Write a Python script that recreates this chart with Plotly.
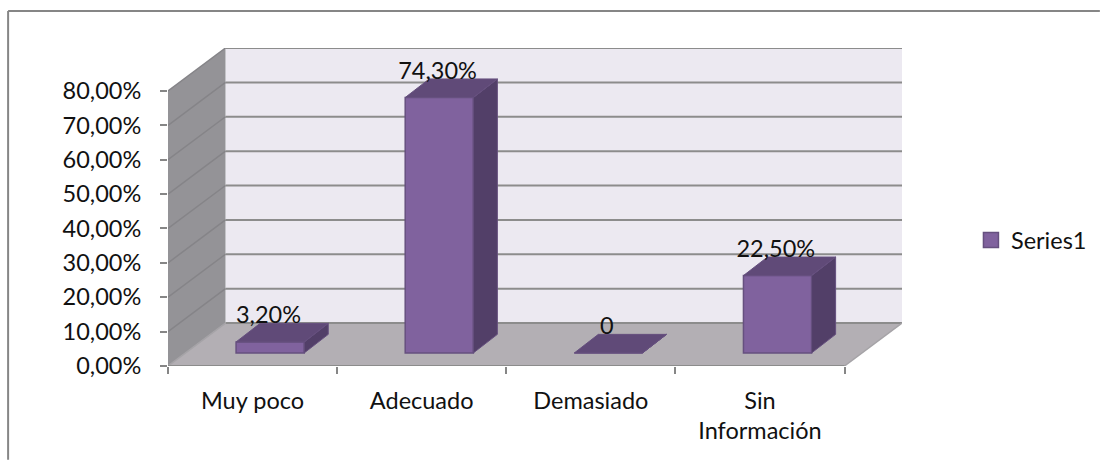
import plotly.graph_objects as go

CATEGORIES = ["Muy poco", "Adecuado", "Demasiado", "Sin<br>Información"]
VALUES = [3.2, 74.3, 0, 22.5]
VALUE_LABELS = ["3,20%", "74,30%", "0", "22,50%"]
Y_TICKS = [0, 10, 20, 30, 40, 50, 60, 70, 80]
Y_LABELS = ["0,00%", "10,00%", "20,00%", "30,00%", "40,00%", "50,00%", "60,00%", "70,00%", "80,00%"]

FONT = "Lato, Carlito, Calibri, sans-serif"
FONT_SIZE = 23.5
TEXT = "#111111"
GRID = "#8c8c8c"
FRAME = "#868686"
WALL_BACK = "#ece9f1"
WALL_SIDE = "#949397"
FLOOR = "#b3afb4"
BAR_FRONT = "#80629e"
BAR_TOP = "#604a78"
BAR_SIDE = "#523f68"
BAR_EDGE = "#66507f"

# fake 3D box, offsets in axis units
DEPTH_X = 0.34
DEPTH_Y = 12.5
BAR_W = 0.403
BAR_SHIFT = 0.104
BAR_LIFT = 3.8
BAR_DX = 0.142
BAR_DY = 5.4

M_L, M_R, M_T, M_B = 167.5, 198, 47.5, 94
PLOT_W = 1100 - M_L - M_R
PLOT_H = 460 - M_T - M_B


def _poly(points, fill):
    path = "M " + " L ".join(f"{x},{y}" for x, y in points) + " Z"
    return dict(type="path", path=path, xref="x", yref="y", fillcolor=fill,
                line=dict(width=0), layer="below")


def _line(x0, y0, x1, y1, color=GRID, width=2):
    return dict(type="line", x0=x0, y0=y0, x1=x1, y1=y1, xref="x", yref="y",
                line=dict(color=color, width=width), layer="below")


def _frame(x0, y0, x1, y1):
    # outer chart frame, given in page pixels
    return dict(type="line", xref="paper", yref="paper",
                x0=(x0 - M_L) / PLOT_W, x1=(x1 - M_L) / PLOT_W,
                y0=1 - (y0 - M_T) / PLOT_H, y1=1 - (y1 - M_T) / PLOT_H,
                line=dict(color=FRAME, width=2))


n = len(CATEGORIES)
top = max(Y_TICKS)

shapes = [
    _poly([(DEPTH_X, DEPTH_Y), (n + DEPTH_X, DEPTH_Y), (n + DEPTH_X, top + DEPTH_Y), (DEPTH_X, top + DEPTH_Y)], WALL_BACK),
    _poly([(0, 0), (0, top), (DEPTH_X, top + DEPTH_Y), (DEPTH_X, DEPTH_Y)], WALL_SIDE),
    _poly([(0, 0), (n, 0), (n + DEPTH_X, DEPTH_Y), (DEPTH_X, DEPTH_Y)], FLOOR),
]
for v in Y_TICKS:
    shapes.append(_line(DEPTH_X, v + DEPTH_Y, n + DEPTH_X, v + DEPTH_Y))
    if v > 0:
        shapes.append(_line(0, v, DEPTH_X, v + DEPTH_Y, color="#858488", width=1.5))
shapes.append(_line(0, 0, DEPTH_X, DEPTH_Y, color="#a5a3a7", width=1.5))
shapes.append(_line(n, 0, n + DEPTH_X, DEPTH_Y, color="#a5a3a7", width=1.5))
shapes.append(_line(0, 0, n, 0))
shapes.append(_frame(7.5, 10.5, 1100, 10.5))
shapes.append(_frame(7.5, 10.5, 7.5, 460))

centers = [i + 0.5 for i in range(n)]
bar_x = [c + BAR_SHIFT for c in centers]

top_x, top_y, side_x, side_y = [], [], [], []
for x, v in zip(bar_x, VALUES):
    x0, x1 = x - BAR_W / 2, x + BAR_W / 2
    h = v + BAR_LIFT
    top_x += [x0, x1, x1 + BAR_DX, x0 + BAR_DX, x0, None]
    top_y += [h, h, h + BAR_DY, h + BAR_DY, h, None]
    side_x += [x1, x1, x1 + BAR_DX, x1 + BAR_DX, x1, None]
    side_y += [BAR_LIFT, h, h + BAR_DY, BAR_LIFT + BAR_DY, BAR_LIFT, None]

fig = go.Figure()
fig.add_trace(go.Bar(
    x=bar_x, y=VALUES, base=BAR_LIFT, width=BAR_W,
    marker=dict(color=BAR_FRONT, line=dict(color=BAR_EDGE, width=1.5)),
    showlegend=False, hoverinfo="skip",
))
fig.add_trace(go.Scatter(
    x=side_x, y=side_y, mode="lines", fill="toself", fillcolor=BAR_SIDE,
    line=dict(color=BAR_EDGE, width=1), showlegend=False, hoverinfo="skip",
))
fig.add_trace(go.Scatter(
    x=top_x, y=top_y, mode="lines", fill="toself", fillcolor=BAR_TOP,
    line=dict(color=BAR_EDGE, width=1), showlegend=False, hoverinfo="skip",
))
fig.add_trace(go.Scatter(
    x=[x - 0.01 for x in bar_x], y=[v + BAR_LIFT + BAR_DY + 1.8 for v in VALUES],
    mode="text", text=VALUE_LABELS, textposition="middle center",
    textfont=dict(family=FONT, size=FONT_SIZE, color=TEXT),
    cliponaxis=False, showlegend=False, hoverinfo="skip",
))
# legend entry only
fig.add_trace(go.Scatter(
    x=[None], y=[None], mode="markers", name="Series1",
    marker=dict(symbol="square", size=15, color=BAR_FRONT, line=dict(color=BAR_EDGE, width=1.5)),
))

fig.update_layout(
    width=1100, height=460,
    margin=dict(l=M_L, r=M_R, t=M_T, b=M_B, autoexpand=False),
    paper_bgcolor="white", plot_bgcolor="white",
    font=dict(family=FONT, size=FONT_SIZE, color=TEXT),
    shapes=shapes,
    showlegend=True,
    legend=dict(x=(971 - M_L) / PLOT_W, y=1 - (240 - M_T) / PLOT_H, xanchor="left", yanchor="middle",
                bgcolor="rgba(0,0,0,0)", font=dict(family=FONT, size=FONT_SIZE, color=TEXT)),
    xaxis=dict(
        range=[0, n + DEPTH_X], tickmode="array", tickvals=centers, ticktext=CATEGORIES,
        ticks="", ticklen=0, showgrid=False, zeroline=False, showline=False, ticklabelstandoff=18,
        minor=dict(tickmode="linear", tick0=0, dtick=1, ticks="outside", ticklen=7, tickwidth=2,
                   tickcolor=FRAME, showgrid=False),
    ),
    yaxis=dict(
        range=[0, top + DEPTH_Y], tickmode="array", tickvals=Y_TICKS, ticktext=Y_LABELS,
        ticks="outside", ticklen=7, tickwidth=2, tickcolor=FRAME,
        showgrid=False, zeroline=False, showline=False, ticklabelstandoff=14,
    ),
)

# page has a default 8px body margin, drop it so the chart sits at 0,0
fig.write_html("out.html", config=dict(displayModeBar=False),
               post_script="document.body.style.margin='0';")
